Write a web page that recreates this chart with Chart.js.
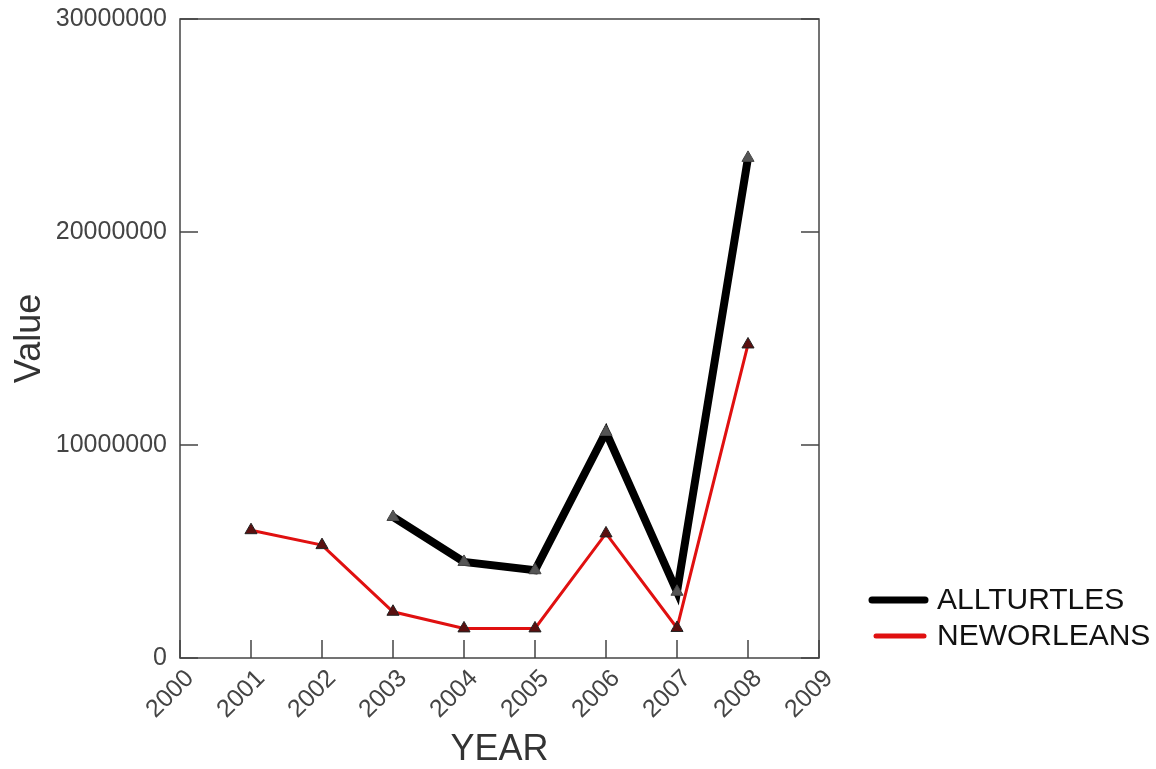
<!DOCTYPE html>
<html>
<head>
<meta charset="utf-8">
<script src="https://cdn.jsdelivr.net/npm/chart.js@4.4.0/dist/chart.umd.min.js"></script>
<style>
  html, body { margin: 0; padding: 0; background: #fff; }
  #wrap { width: 1156px; height: 769px; position: relative; }
</style>
</head>
<body>
<div id="wrap"><canvas id="c" width="1156" height="769"></canvas></div>
<script>
const years = [2001, 2002, 2003, 2004, 2005, 2006, 2007, 2008];
const allTurtles = [null, null, 6620000, 4510000, 4120000, 10610000, 3110000, 23480000];
const newOrleans = [6000000, 5300000, 2170000, 1390000, 1390000, 5850000, 1410000, 14720000];
const yTicks = [0, 10000000, 20000000, 30000000];
const xMin = 2000, xMax = 2009;
const seriesNames = ['ALLTURTLES', 'NEWORLEANS'];

const FONT = "'Liberation Sans', Arial, sans-serif";

const toPts = arr => years.map((y, i) => ({ x: y, y: arr[i] }));

const frameAndTicks = {
  id: 'frameAndTicks',
  afterDraw(chart) {
    const { ctx, chartArea: a, scales } = chart;
    ctx.save();
    ctx.strokeStyle = '#444';
    ctx.lineWidth = 1.5;
    ctx.strokeRect(a.left, a.top, a.right - a.left, a.bottom - a.top);
    const L = 18;
    ctx.beginPath();
    scales.x.ticks.forEach(t => {
      const px = scales.x.getPixelForValue(t.value);
      ctx.moveTo(px, a.bottom); ctx.lineTo(px, a.bottom - L);
    });
    scales.y.ticks.forEach(t => {
      const py = scales.y.getPixelForValue(t.value);
      ctx.moveTo(a.left, py); ctx.lineTo(a.left + L, py);
      ctx.moveTo(a.right, py); ctx.lineTo(a.right - L, py);
    });
    ctx.stroke();
    ctx.restore();
  }
};

const customLegend = {
  id: 'customLegend',
  afterDraw(chart) {
    const { ctx } = chart;
    const items = [
      { y: 600, x0: 872, x1: 925, w: 7, ds: chart.data.datasets[0] },
      { y: 636, x0: 876, x1: 924, w: 5, ds: chart.data.datasets[1] }
    ];
    ctx.save();
    items.forEach(it => {
      ctx.strokeStyle = it.ds.borderColor;
      ctx.lineWidth = it.w;
      ctx.lineCap = 'round';
      ctx.beginPath();
      ctx.moveTo(it.x0, it.y); ctx.lineTo(it.x1, it.y);
      ctx.stroke();
      ctx.fillStyle = '#111';
      ctx.font = '30px ' + FONT;
      ctx.textBaseline = 'middle';
      ctx.textAlign = 'left';
      ctx.fillText(it.ds.label, 937, it.y + 1);
    });
    ctx.restore();
  }
};

new Chart(document.getElementById('c'), {
  type: 'line',
  data: {
    datasets: [
      {
        label: seriesNames[0],
        data: toPts(allTurtles),
        borderColor: '#000000',
        borderWidth: 8,
        pointStyle: 'triangle',
        pointRadius: 7,
        pointBackgroundColor: '#555',
        pointBorderColor: '#444',
        pointBorderWidth: 1,
        spanGaps: false,
        tension: 0
      },
      {
        label: seriesNames[1],
        data: toPts(newOrleans),
        borderColor: '#e01010',
        borderWidth: 3,
        pointStyle: 'triangle',
        pointRadius: 7,
        pointBackgroundColor: '#5a1010',
        pointBorderColor: '#222',
        pointBorderWidth: 1,
        tension: 0
      }
    ]
  },
  options: {
    responsive: false,
    animation: false,
    layout: { padding: { top: 19, right: 337, left: 0, bottom: 0 } },
    plugins: { legend: { display: false }, tooltip: { enabled: false } },
    scales: {
      x: {
        type: 'linear',
        min: xMin, max: xMax,
        afterFit(s) { s.height = 111; s.paddingLeft = 0; s.paddingRight = 0; },
        grid: { display: false, drawTicks: false },
        border: { display: false },
        ticks: {
          stepSize: 1,
          autoSkip: false,
          minRotation: 45, maxRotation: 45,
          padding: 6,
          labelOffset: 10,
          color: '#444',
          font: { family: FONT, size: 25 },
          callback: v => String(v)
        },
        title: {
          display: true, text: 'YEAR', color: '#333',
          font: { family: FONT, size: 36, lineHeight: 1 },
          padding: { top: 0, bottom: 1 }
        }
      },
      y: {
        min: 0, max: 30000000,
        afterFit(s) { s.width = 180; s.paddingTop = 0; s.paddingBottom = 0; },
        afterBuildTicks(s) { s.ticks = yTicks.map(v => ({ value: v })); },
        grid: { display: false, drawTicks: false },
        border: { display: false },
        ticks: {
          padding: 13,
          color: '#444',
          font: { family: FONT, size: 25 },
          callback: v => String(v)
        },
        title: {
          display: true, text: 'Value', color: '#333',
          font: { family: FONT, size: 36, lineHeight: 1.2 },
          padding: { top: 8, bottom: 0 }
        }
      }
    }
  },
  plugins: [frameAndTicks, customLegend]
});
</script>
</body>
</html>
